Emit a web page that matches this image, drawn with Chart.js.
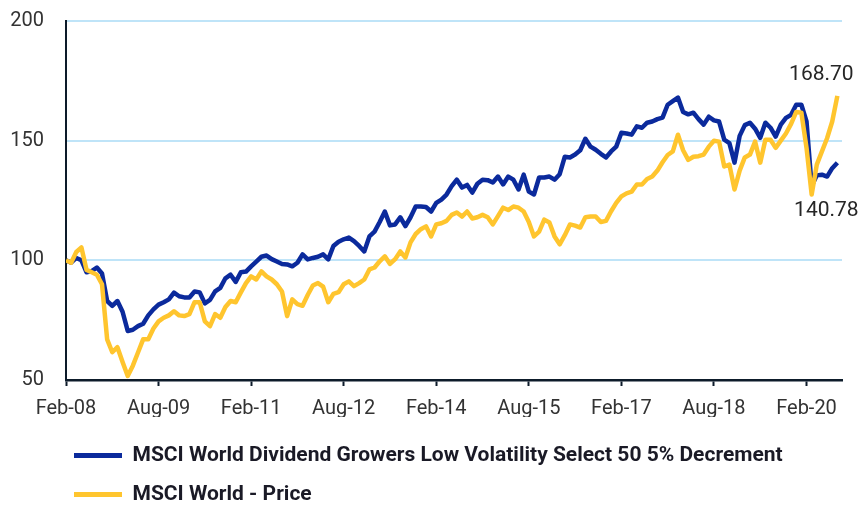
<!DOCTYPE html>
<html>
<head>
<meta charset="utf-8">
<script src="https://cdn.jsdelivr.net/npm/chart.js@4"></script>
<style>
  body { margin: 0; background: #fff; }
  #wrap { width: 862px; height: 505px; }
</style>
</head>
<body>
<div id="wrap"><canvas id="myChart"></canvas></div>
<script>
// monthly index values, Feb-08 .. Aug-20 (rebased to 100)
const tickLabels = ["Feb-08", "Aug-09", "Feb-11", "Aug-12", "Feb-14", "Aug-15", "Feb-17", "Aug-18", "Feb-20"];
const tickStep = 18;

const dividendGrowers = [
  100, 99, 101, 100, 95, 95.5, 97, 94.5, 83, 81,
  83, 78.5, 70.5, 71, 72.5, 73.5, 77, 79.5, 81.5, 82.5,
  83.7, 86.5, 85, 84.5, 84.5, 87, 86.6, 82, 83.5, 87,
  88.5, 92.5, 94, 91, 95, 95.3, 97.5, 99.5, 101.5, 102,
  100.5, 99.5, 98.5, 98.3, 97.5, 99, 102.5, 100.4, 101, 101.5,
  102.5, 100.4, 106, 107.8, 108.8, 109.5, 108, 106, 103.7, 110,
  112, 116, 120.4, 114.6, 115, 118, 114.3, 118, 122.5, 122.5,
  122.3, 120.4, 124, 125.4, 127.5, 131, 133.7, 130.4, 131.5, 128.3,
  132, 133.7, 133.5, 132.5, 135, 131.7, 135, 133.7, 129.6, 135.8,
  128.7, 127.5, 134.6, 134.6, 135, 133.7, 136, 143.3, 143, 144.2,
  146, 150.8, 147.5, 146.2, 144.5, 143, 145.5, 147.5, 153.3, 153,
  152.5, 156, 155.4, 157.5, 158, 159, 159.6, 165, 166.5, 168,
  162, 161, 161.7, 159, 156.7, 160, 158.5, 158, 150.4, 149,
  140.8, 152, 156.5, 157.5, 155, 151.2, 157.5, 155.4, 151.7, 156.7,
  159.5, 160.8, 165, 165, 158, 131, 135.5, 135.8, 135, 138.5,
  140.78
];

const worldPrice = [
  100, 99, 103.5, 105.4, 96, 95, 94, 90, 67, 61.6,
  63.7, 57.5, 51.7, 56, 61.5, 67, 67, 71.5, 74.5, 76,
  77, 78.7, 77, 76.7, 77.5, 82.5, 82.5, 74.5, 72.5, 77.5,
  76, 80.5, 83, 82.5, 86.6, 90.5, 93.3, 92, 95.4, 93.3,
  92, 90, 87, 76.7, 83.7, 81.7, 81, 85.5, 89.5, 90.5,
  89, 82.5, 86, 86.7, 90, 91.2, 89.2, 90.5, 92, 96.2,
  97, 99.6, 101.7, 98.5, 100.5, 103.7, 101.2, 107.5, 111, 113,
  114.2, 110, 115, 115.5, 116.5, 119, 120, 118.3, 120.4, 117.5,
  118, 119, 118, 115, 118.5, 122, 121, 122.5, 122, 120.4,
  116, 110, 112, 117, 115.8, 110, 106.7, 110.5, 115, 114.5,
  113.7, 118, 118.3, 118.3, 116, 116.5, 120.5, 124, 126.7, 128,
  128.7, 131.7, 131.7, 134, 135, 137.5, 141, 144, 145.5, 152.5,
  146, 142, 143.3, 143.5, 144.2, 147.5, 150, 149.6, 139.2, 140,
  129.6, 137.5, 143, 144.2, 149.6, 140.8, 150.4, 150.4, 147, 150,
  153, 157, 162, 161.7, 147, 127.5, 140, 145.5, 151, 158,
  168.7
];

const navy = "#0d1b2a";
const blue = "#0b2a9c";
const yellow = "#ffc52e";
const gridBlue = "#bfe4f8";

const toPoints = (arr) => arr.map((v, i) => ({ x: i, y: v }));

// end-of-series value labels
const endLabels = {
  id: "endLabels",
  afterDatasetsDraw(chart) {
    const { ctx, scales: { x, y } } = chart;
    const last = dividendGrowers.length - 1;
    ctx.save();
    ctx.font = "21px Roboto";
    ctx.fillStyle = "#262626";
    ctx.textAlign = "center";
    ctx.textBaseline = "middle";
    ctx.fillText(worldPrice[last].toFixed(2), x.getPixelForValue(last) - 16, y.getPixelForValue(worldPrice[last]) - 21);
    ctx.fillText(dividendGrowers[last].toFixed(2), x.getPixelForValue(last) - 11, y.getPixelForValue(dividendGrowers[last]) + 48);
    ctx.restore();
  },
};

// push the stacked legend rows to the left/bottom like the original
const legendPlace = {
  id: "legendPlace",
  afterLayout(chart) {
    chart.legend.left = 56;
    chart.legend.top = 427;
  },
};

const ctx = document.getElementById("myChart").getContext("2d");
const myChart = new Chart(ctx, {
  type: "line",
  data: {
    datasets: [
      {
        label: "MSCI World Dividend Growers Low Volatility Select 50 5% Decrement",
        data: toPoints(dividendGrowers),
        borderColor: blue,
        backgroundColor: blue,
        borderWidth: 4.5,
        pointRadius: 0,
        borderJoinStyle: "round",
        order: 2,
      },
      {
        label: "MSCI World - Price",
        data: toPoints(worldPrice),
        borderColor: yellow,
        backgroundColor: yellow,
        borderWidth: 4.5,
        pointRadius: 0,
        borderJoinStyle: "round",
        order: 1,
      },
    ],
  },
  options: {
    responsive: true,
    maintainAspectRatio: false,
    animation: false,
    layout: { padding: { left: 0, right: 20, top: 21, bottom: 0 } },
    plugins: {
      tooltip: { enabled: false },
      legend: {
        position: "bottom",
        align: "start",
        labels: {
          boxWidth: 48,
          boxHeight: 5,
          padding: 18,
          color: "#1a1a26",
          font: { family: "Roboto", size: 21, weight: "bold" },
          sort: (a, b) => a.datasetIndex - b.datasetIndex,
          generateLabels(chart) {
            return Chart.defaults.plugins.legend.labels.generateLabels(chart).map((l) => ({
              ...l,
              fillStyle: l.strokeStyle,
              lineWidth: 0,
            }));
          },
        },
      },
    },
    scales: {
      x: {
        type: "linear",
        min: 0,
        max: 150.9,
        afterFit(scale) {
          scale.height = 37;
        },
        afterBuildTicks(scale) {
          scale.ticks = tickLabels.map((_, i) => ({ value: i * tickStep }));
        },
        ticks: {
          padding: 11,
          color: "#333",
          font: { family: "Roboto", size: 20 },
          maxRotation: 0,
          autoSkip: false,
          callback: (value) => tickLabels[value / tickStep],
        },
        grid: {
          drawOnChartArea: false,
          drawTicks: true,
          tickLength: 6,
          tickColor: navy,
          tickWidth: 2,
        },
        border: { color: navy, width: 2.5 },
      },
      y: {
        min: 50,
        max: 200,
        afterFit(scale) {
          scale.width = 66;
          scale.paddingTop = 0;
          scale.paddingBottom = 0;
        },
        ticks: {
          stepSize: 50,
          padding: 22,
          color: "#333",
          font: { family: "Roboto", size: 20 },
        },
        grid: {
          drawTicks: false,
          lineWidth: 2,
          color: (c) => (c.tick && c.tick.value === 50 ? "rgba(0,0,0,0)" : gridBlue),
        },
        border: { color: navy, width: 2 },
      },
    },
  },
  plugins: [endLabels, legendPlace],
});
</script>
</body>
</html>
